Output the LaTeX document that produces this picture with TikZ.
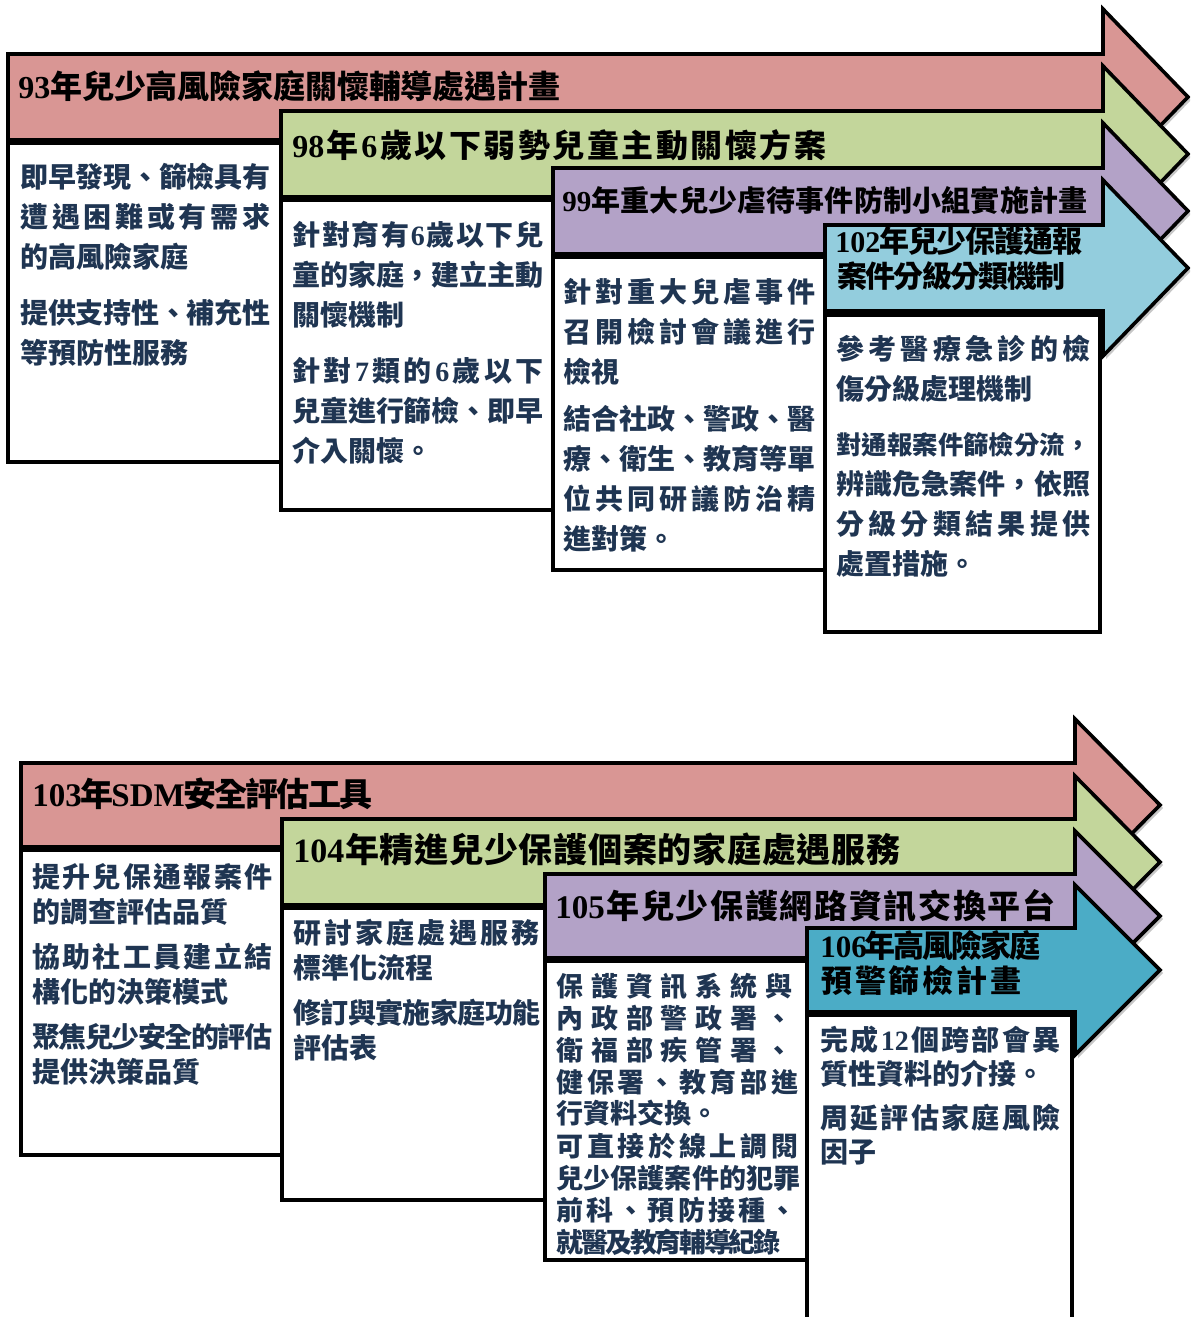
\documentclass[tikz,border=0pt]{standalone}
\usepackage{fontspec}
\setmainfont{Liberation Serif}
\newfontfamily\cjk{Noto Sans CJK TC}
\definecolor{cpink}{HTML}{D99694}
\definecolor{cgreen}{HTML}{C3D69B}
\definecolor{cpurple}{HTML}{B3A2C7}
\definecolor{clblue}{HTML}{93CDDD}
\definecolor{cteal}{HTML}{4BACC6}
\definecolor{navy}{HTML}{1F3552}
\makeatletter
\def\sp@endm{\sp@end}
\def\sp@next#1{\def\sp@tmp{#1}\ifx\sp@tmp\sp@endm\else\hskip 0pt plus 1fil minus 1fil{#1}\expandafter\sp@next\fi}
\def\sp@first#1{{#1}\sp@next}
\newcommand\spreadto[2]{\hbox to #1{\sp@first#2\sp@end}}
\makeatother
\newcommand\D[1]{{\rmfamily\bfseries #1}}
\newcommand\arrowband[7]{%
  \fill[black,opacity=0.22] ([xshift=1.5pt,yshift=-1.5pt]#2,#3) -- ([xshift=1.5pt,yshift=-1.5pt]#5,#3) -- ([xshift=1.5pt,yshift=-1.5pt]#5,#6) -- ([xshift=1.5pt,yshift=-1.5pt]#7,{(#3+#4)/2}) -- ([xshift=1.5pt,yshift=-1.5pt]#5,{#3+#4-#6}) -- ([xshift=1.5pt,yshift=-1.5pt]#5,#4) -- ([xshift=1.5pt,yshift=-1.5pt]#2,#4) -- cycle;
  \filldraw[band, fill=#1] (#2,#3) -- (#5,#3) -- (#5,#6) -- (#7,{(#3+#4)/2}) -- (#5,{#3+#4-#6}) -- (#5,#4) -- (#2,#4) -- cycle;}
\tikzset{
  band/.style={draw=black, line width=1.8pt, line join=miter},
  card/.style={draw=black, line width=1.8pt, fill=white},
  hdA/.style={anchor=base west, inner sep=0pt, text=black, font=\cjk\bfseries\fontsize{16}{19}\selectfont},
  bd/.style={anchor=base west, inner sep=0pt, text=navy, font=\cjk\bfseries\fontsize{14}{16}\selectfont},
  bdB/.style={anchor=base west, inner sep=0pt, text=navy, font=\cjk\bfseries\fontsize{13.5}{15}\selectfont},
}
\begin{document}
\begin{tikzpicture}[x=0.5pt, y=-0.5pt]
\clip (0,0) rectangle (1190,1317);
\fill[white] (0,0) rectangle (1190,1317);
% ================= TOP SECTION =================
\arrowband{cpink}{8}{54}{140}{1103}{9}{1188}
\draw[card] (8,143) rectangle (281,462);
\arrowband{cgreen}{281}{111}{197}{1103}{66}{1188}
\draw[card] (281,200) rectangle (553,510);
\arrowband{cpurple}{553}{168}{254}{1103}{123}{1188}
\draw[card] (553,257) rectangle (825,570);
\arrowband{clblue}{825}{225}{311}{1103}{180}{1188}
\draw[card] (825,315) rectangle (1100,632);

\node[hdA] (h1) at (18,98) {\spreadto{271pt}{{\D{93}}年兒少高風險家庭關懷輔導處遇計畫}};
\node[hdA] (h2) at (292,157) {\spreadto{267pt}{{\D{98}}年{\D{6}}歲以下弱勢兒童主動關懷方案}};
\node[hdA, font=\cjk\bfseries\fontsize{14.5}{17}\selectfont] (h3) at (562,211) {\spreadto{262.5pt}{{\D{99}}年重大兒少虐待事件防制小組實施計畫}};
\node[hdA, font=\cjk\bfseries\fontsize{15}{17}\selectfont] (h4a) at (835,252) {\spreadto{123.5pt}{{\D{102}}年兒少保護通報}};
\node[hdA, font=\cjk\bfseries\fontsize{15}{17}\selectfont] (h4b) at (837,287) {\spreadto{114pt}{案件分級分類機制}};

\node[bd] (a1) at (20,187) {\spreadto{125pt}{即早發現、篩檢具有}};
\node[bd] (a2) at (20,227) {\spreadto{125pt}{遭遇困難或有需求}};
\node[bd] (a3) at (20,267) {的高風險家庭};
\node[bd] (a4) at (20,323) {\spreadto{125pt}{提供支持性、補充性}};
\node[bd] (a5) at (20,363) {等預防性服務};

\node[bd] (b1) at (292,245) {\spreadto{125.5pt}{針對育有{\D{6}}歲以下兒}};
\node[bd] (b2) at (292,285) {\spreadto{125.5pt}{童的家庭，建立主動}};
\node[bd] (b3) at (292,325) {關懷機制};
\node[bd] (b4) at (292,381) {\spreadto{125.5pt}{針對{\D{7}}類的{\D{6}}歲以下}};
\node[bd] (b5) at (292,421) {\spreadto{125.5pt}{兒童進行篩檢、即早}};
\node[bd] (b6) at (292,461) {介入關懷。};

\node[bd] (c1) at (563,302) {\spreadto{126pt}{針對重大兒虐事件}};
\node[bd] (c2) at (563,342) {\spreadto{126pt}{召開檢討會議進行}};
\node[bd] (c3) at (563,382) {檢視};
\node[bd] (c4) at (563,429) {\spreadto{126pt}{結合社政、警政、醫}};
\node[bd] (c5) at (563,469) {\spreadto{126pt}{療、衛生、教育等單}};
\node[bd] (c6) at (563,509) {\spreadto{126pt}{位共同研議防治精}};
\node[bd] (c7) at (563,549) {進對策。};

\node[bd] (d1) at (836,359) {\spreadto{127pt}{參考醫療急診的檢}};
\node[bd] (d2) at (836,399) {傷分級處理機制};
\node[bd, font=\cjk\bfseries\fontsize{12.7}{16}\selectfont] (d3) at (836,454) {\spreadto{127pt}{對通報案件篩檢分流，}};
\node[bd] (d4) at (836,494) {\spreadto{127pt}{辨識危急案件，依照}};
\node[bd] (d5) at (836,534) {\spreadto{127pt}{分級分類結果提供}};
\node[bd] (d6) at (836,574) {處置措施。};

% ================= BOTTOM SECTION =================
\arrowband{cpink}{21}{763}{847}{1075}{719}{1160}
\draw[card] (21,850) rectangle (282,1155);
\arrowband{cgreen}{282}{819}{905}{1075}{776}{1160}
\draw[card] (282,908) rectangle (545,1200);
\arrowband{cpurple}{545}{874}{958}{1075}{831}{1160}
\draw[card] (545,961) rectangle (807,1260);
\arrowband{cteal}{807}{928}{1012}{1075}{885}{1160}
\draw[card] (807,1015) rectangle (1072,1340);

\node[hdA, font=\cjk\bfseries\fontsize{16.5}{19}\selectfont] (k1) at (32,806) {\spreadto{170pt}{{\D{103}}年{\D{SDM}}安全評估工具}};
\node[hdA, font=\cjk\bfseries\fontsize{17}{20}\selectfont] (k2) at (293,862) {\spreadto{303.5pt}{{\D{104}}年精進兒少保護個案的家庭處遇服務}};
\node[hdA, font=\cjk\bfseries\fontsize{16.5}{19}\selectfont] (k3) at (555,918) {\spreadto{250pt}{{\D{105}}年兒少保護網路資訊交換平台}};
\node[hdA, font=\cjk\bfseries\fontsize{15.5}{18}\selectfont] (k4a) at (820,957) {\spreadto{110pt}{{\D{106}}年高風險家庭}};
\node[hdA, font=\cjk\bfseries\fontsize{15.5}{18}\selectfont] (k4b) at (821,992) {\spreadto{100pt}{預警篩檢計畫}};

\node[bd] (e1) at (32,887) {\spreadto{120pt}{提升兒保通報案件}};
\node[bd] (e2) at (32,922) {的調查評估品質};
\node[bd] (e3) at (32,967) {\spreadto{120pt}{協助社工員建立結}};
\node[bd] (e4) at (32,1002) {構化的決策模式};
\node[bd] (e5) at (32,1047) {\spreadto{120pt}{聚焦兒少安全的評估}};
\node[bd] (e6) at (32,1082) {提供決策品質};

\node[bd] (f1) at (293,943) {\spreadto{123pt}{研討家庭處遇服務}};
\node[bd] (f2) at (293,978) {標準化流程};
\node[bd] (f3) at (293,1023) {\spreadto{123.5pt}{修訂與實施家庭功能}};
\node[bd] (f4) at (293,1058) {評估表};

\node[bdB] (g1) at (556,996) {\spreadto{118pt}{保護資訊系統與}};
\node[bdB] (g2) at (556,1028) {\spreadto{118pt}{內政部警政署、}};
\node[bdB] (g3) at (556,1060) {\spreadto{118pt}{衛福部疾管署、}};
\node[bdB] (g4) at (556,1092) {\spreadto{121pt}{健保署、教育部進}};
\node[bdB] (g5) at (556,1123) {行資料交換。};
\node[bdB] (g6) at (556,1156) {\spreadto{121pt}{可直接於線上調閱}};
\node[bdB] (g7) at (556,1188) {\spreadto{122pt}{兒少保護案件的犯罪}};
\node[bdB] (g8) at (556,1220) {\spreadto{120pt}{前科、預防接種、}};
\node[bdB] (g9) at (556,1252) {\spreadto{112pt}{就醫及教育輔導紀錄}};

\node[bd] (m1) at (820,1050) {\spreadto{120pt}{完成{\D{12}}個跨部會異}};
\node[bd] (m2) at (820,1084) {質性資料的介接。};
\node[bd] (m3) at (820,1128) {\spreadto{120pt}{周延評估家庭風險}};
\node[bd] (m4) at (820,1162) {因子};
\end{tikzpicture}
\end{document}
